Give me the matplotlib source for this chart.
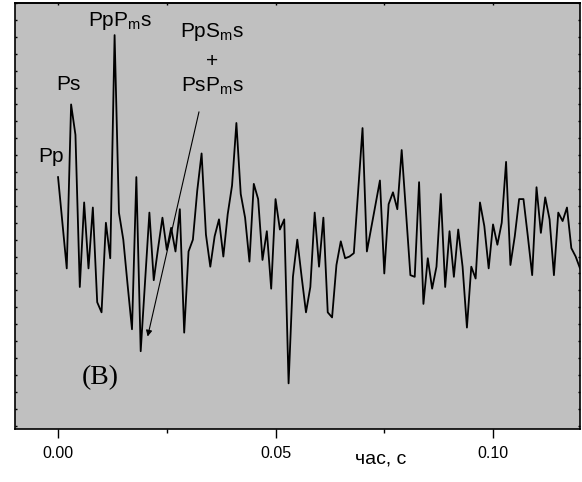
import matplotlib
matplotlib.use("Agg")
import matplotlib.pyplot as plt
from matplotlib.ticker import MultipleLocator

plt.rcParams['font.family'] = ['Liberation Sans', 'DejaVu Sans']
plt.rcParams['mathtext.default'] = 'regular'

# sampling step 1 ms, trace amplitude in arbitrary units
dt = 0.001
amplitude = [
    0.17, -0.10, -0.37, 0.60, 0.42, -0.48, 0.02, -0.37, -0.01, -0.57,
    -0.63, -0.10, -0.31, 1.01, -0.04, -0.20, -0.47, -0.73, 0.17, -0.86,
    -0.45, -0.04, -0.44, -0.25, -0.07, -0.26, -0.13, -0.27, -0.02, -0.75,
    -0.27, -0.20, 0.09, 0.31, -0.17, -0.36, -0.18, -0.08, -0.30, -0.05,
    0.12, 0.49, 0.07, -0.07, -0.33, 0.13, 0.04, -0.32, -0.15, -0.49,
    0.04, -0.14, -0.08, -1.05, -0.42, -0.20, -0.42, -0.63, -0.48, -0.04,
    -0.36, -0.07, -0.63, -0.66, -0.35, -0.21, -0.31, -0.30, -0.28, 0.09,
    0.46, -0.27, -0.13, 0.01, 0.15, -0.40, 0.01, 0.08, -0.02, 0.33,
    -0.04, -0.41, -0.42, 0.14, -0.58, -0.31, -0.49, -0.36, 0.07, -0.48,
    -0.15, -0.42, -0.14, -0.36, -0.72, -0.36, -0.43, 0.02, -0.12, -0.37,
    -0.11, -0.23, -0.10, 0.26, -0.35, -0.18, 0.04, 0.04, -0.18, -0.41,
    0.11, -0.16, 0.05, -0.08, -0.41, -0.04, -0.09, -0.01, -0.25, -0.30,
    -0.37,
]
time = [i * dt for i in range(len(amplitude))]

# phase labels: (text, x, y)
phase_labels = [
    ("Pp", -0.0017, 0.258),
    ("Ps", 0.0025, 0.686),
    ("PpP$_m$s", 0.0143, 1.061),
    ("PpS$_m$s", 0.0354, 0.998),
    ("+", 0.0354, 0.82),
    ("PsP$_m$s", 0.0354, 0.673),
]
arrow_start = (0.0324, 0.556)
arrow_end = (0.0206, -0.773)

fig = plt.figure(figsize=(5.82, 4.82), dpi=100)
ax = fig.add_axes([0.025, 0.110, 0.9716, 0.8838])
ax.set_facecolor('#c0c0c0')

ax.plot(time, amplitude, color='black', lw=1.3)

for txt, x, y in phase_labels:
    ax.text(x, y, txt, fontsize=15, ha='center', va='baseline')

ax.annotate('', xy=arrow_end, xytext=arrow_start,
            arrowprops=dict(arrowstyle='-|>', color='black', lw=0.8,
                            mutation_scale=9, shrinkA=0, shrinkB=0))

ax.text(0.0097, -1.053, '(В)', fontsize=20, family='Liberation Serif',
        ha='center', va='baseline')

ax.set_xlim(-0.01, 0.12)
ax.set_ylim(-1.32, 1.2)

ax.xaxis.set_major_locator(MultipleLocator(0.05))
ax.xaxis.set_minor_locator(MultipleLocator(0.025))
ax.yaxis.set_major_locator(MultipleLocator(0.1))
ax.xaxis.set_major_formatter(matplotlib.ticker.FormatStrFormatter('%.2f'))
ax.set_yticklabels([])

ax.tick_params(axis='x', which='major', direction='out', length=6.3, width=1.0,
               labelsize=11.5, pad=6.3, top=False)
ax.tick_params(axis='x', which='minor', direction='out', length=3, width=1.0, top=False)
ax.tick_params(axis='y', which='both', direction='in', length=1.6, width=1.0,
               left=True, right=True, labelleft=False)

# small ticks on top, pointing in
top = ax.secondary_xaxis('top')
top.xaxis.set_major_locator(MultipleLocator(0.025))
top.tick_params(direction='in', length=1.6, width=1.0, labeltop=False)
top.spines['top'].set_linewidth(1.2)

for sp in ax.spines.values():
    sp.set_linewidth(1.2)

ax.set_xlabel('час, с', fontsize=14)
ax.xaxis.label.set_verticalalignment('baseline')
ax.xaxis.set_label_coords(0.648, -0.0805)

fig.savefig('out.png', dpi=100)
